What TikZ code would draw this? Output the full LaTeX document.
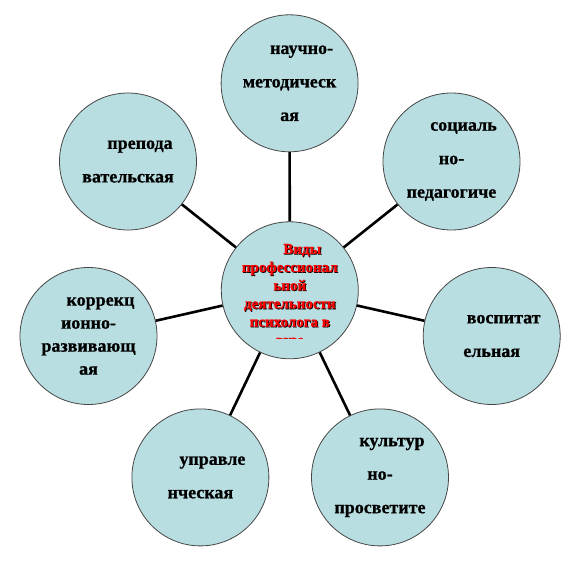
\documentclass[tikz,border=0pt]{standalone}
\usepackage{fontspec}
\setmainfont{Liberation Serif}[BoldFeatures={FakeBold=0.8}]
\definecolor{bubblefill}{RGB}{184,222,225}
\definecolor{bubbleline}{RGB}{70,70,70}

\begin{document}
\begin{tikzpicture}[x=1pt,y=-1pt,
        bubble/.style={circle,draw=bubbleline,line width=0.8pt,fill=bubblefill,
            minimum size=137pt,inner sep=0pt,align=center,
            font=\bfseries\fontsize{18}{33.5}\selectfont},
        tight/.style={font=\bfseries\fontsize{18}{23}\selectfont},
        hub/.style={align=center,inner sep=0pt,
            font=\bfseries\fontsize{15}{18.2}\selectfont},
        spoke/.style={line width=2.6pt}]
    \useasboundingbox (0,0) rectangle (576,576);
    % centre and the seven kinds
    \node[bubble] (0) at (289.8,290.3) {};
    \node[bubble] (1) at (289.6,83.3) {\hspace*{24pt}научно-\\методическ\\ая};
    \node[bubble] (2) at (451.5,161.5) {\hspace*{24pt}социаль\\но-\\педагогиче};
    \node[bubble] (3) at (491.7,336) {\hspace*{24pt}воспитат\\ельная};
    \node[bubble] (4) at (380,477.4) {\hspace*{24pt}культур\\но-\\просветите};
    \node[bubble] (5) at (200.4,477.4) {\hspace*{24pt}управле\\нческая};
    \node[bubble,tight] (6) at (88.5,336) {\hspace*{24pt}коррекц\\ионно-\\развивающ\\ая};
    \node[bubble] (7) at (128,161.5) {\hspace*{24pt}препода\\вательская};

    \foreach \i in {1,...,7}
        \draw[spoke] (0) -- (\i);

    % title, cut off at the bottom of its box
    \begin{scope}
        \clip (200,230) rectangle (380,338);
        \node[hub,text=black] (0s) at (290.6,296.8) {\hspace*{25pt}Виды\\профессионал\\ьной\\деятельности\\психолога в\\вузе};
        \node[hub,text=red] (0t) at (289.8,296) {\hspace*{25pt}Виды\\профессионал\\ьной\\деятельности\\психолога в\\вузе};
    \end{scope}
\end{tikzpicture}
\end{document}
